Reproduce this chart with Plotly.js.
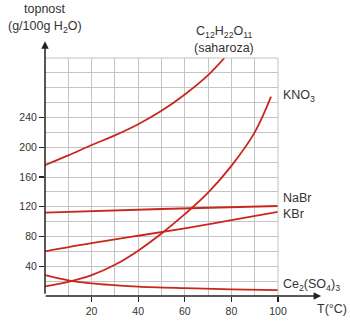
<!DOCTYPE html>
<html>
<head>
<meta charset="utf-8">
<script src="https://cdn.plot.ly/plotly-3.0.1.min.js"></script>
<style>html,body{margin:0;padding:0;background:#fff;}#chart{width:350px;height:321px;}</style>
</head>
<body>
<div id="chart"></div>
<script>
// Solubility data (g / 100 g H2O)
var sucroseT = [0, 10, 20, 30, 40, 50, 60, 70, 77];
var sucroseS = [176, 189, 203, 216, 231, 249, 271, 297, 320];

var kno3T = [0, 10, 20, 30, 40, 50, 60, 70, 80, 90, 97];
var kno3S = [13, 19, 28, 42, 61, 84, 110, 139, 175, 220, 268];

var nabrT = [0, 50, 100];
var nabrS = [112, 117, 121];

var kbrT = [0, 20, 40, 60, 80, 100];
var kbrS = [60, 71, 81, 91, 102, 113];

var ceT = [0, 10, 20, 30, 40, 60, 80, 100];
var ceS = [28, 21, 17, 14.5, 12.5, 10.5, 9, 8];

var xTickVals = [20, 40, 60, 80, 100];
var xTickText = ['20', '40', '60', '80', '100'];
var yTickVals = [40, 80, 120, 160, 200, 240];
var yTickText = ['40', '80', '120', '160', '200', '240'];

var red = '#c9261c';
function series(x, y) {
  return {x: x, y: y, mode: 'lines', type: 'scatter', line: {color: red, width: 1.8, shape: 'spline', smoothing: 1}, hoverinfo: 'skip', showlegend: false};
}
var data = [series(sucroseT, sucroseS), series(kno3T, kno3S), series(nabrT, nabrS), series(kbrT, kbrS), series(ceT, ceS)];

var txt = '#333';
var font = {family: 'Liberation Sans, Arial, sans-serif', size: 12.5, color: txt};
var tickFont = {family: 'Liberation Sans, Arial, sans-serif', size: 10.5, color: txt};

var layout = {
  width: 350, height: 321,
  margin: {l: 45, r: 72, t: 58, b: 25, pad: 0},
  paper_bgcolor: '#fff', plot_bgcolor: '#fff',
  font: font,
  showlegend: false,
  xaxis: {
    range: [0, 100], tickvals: xTickVals, ticktext: xTickText,
    ticks: 'outside', ticklen: 5, tickcolor: '#222', tickwidth: 1.2,
    showgrid: true, gridcolor: '#c4c4c4', gridwidth: 1,
    minor: {dtick: 10, tick0: 0, showgrid: true, gridcolor: '#c4c4c4', gridwidth: 1, ticks: ''},
    zeroline: false, showline: false, tickfont: tickFont, fixedrange: true
  },
  yaxis: {
    range: [0, 320], tickvals: yTickVals, ticktext: yTickText,
    ticks: 'outside', ticklen: 5, tickcolor: '#222', tickwidth: 1.2,
    showgrid: true, gridcolor: '#c4c4c4', gridwidth: 1,
    minor: {dtick: 20, tick0: 0, showgrid: true, gridcolor: '#c4c4c4', gridwidth: 1, ticks: ''},
    zeroline: false, showline: false, tickfont: tickFont, fixedrange: true
  },
  shapes: [
    {type: 'line', xref: 'paper', yref: 'paper', x0: 1, x1: 1, y0: 0, y1: 1, line: {color: '#c4c4c4', width: 1}},
    {type: 'line', xref: 'paper', yref: 'paper', x0: 0, x1: 1, y0: 1, y1: 1, line: {color: '#c4c4c4', width: 1}}
  ],
  annotations: [
    // axes with arrows
    {xref: 'paper', yref: 'paper', x: 1.185, y: 0, axref: 'pixel', ayref: 'pixel', ax: -277, ay: 0,
     showarrow: true, arrowhead: 2, arrowsize: 1, arrowwidth: 1.5, arrowcolor: '#222', text: ''},
    {xref: 'paper', yref: 'paper', x: 0, y: 1.07, axref: 'pixel', ayref: 'pixel', ax: 0, ay: 254,
     showarrow: true, arrowhead: 2, arrowsize: 1, arrowwidth: 1.5, arrowcolor: '#222', text: ''},
    // axis titles
    {xref: 'paper', yref: 'paper', x: 0, y: 1.205, xanchor: 'center', yanchor: 'middle', showarrow: false,
     text: 'topnost', font: font},
    {xref: 'paper', yref: 'paper', x: 0, y: 1.13, xanchor: 'center', yanchor: 'middle', showarrow: false,
     text: '(g/100g H<sub>2</sub>O)', font: font},
    {xref: 'paper', yref: 'paper', x: 1.23, y: -0.055, xanchor: 'center', yanchor: 'middle', showarrow: false,
     text: 'T(°C)', font: font},
    // series labels
    {xref: 'paper', yref: 'paper', x: 0.77, y: 1.11, xanchor: 'center', yanchor: 'middle', showarrow: false,
     text: 'C<sub>12</sub>H<sub>22</sub>O<sub>11</sub>', font: font},
    {xref: 'paper', yref: 'paper', x: 0.77, y: 1.04, xanchor: 'center', yanchor: 'middle', showarrow: false,
     text: '(saharoza)', font: font},
    {xref: 'paper', yref: 'paper', x: 1.015, y: 0.84, xanchor: 'left', yanchor: 'middle', showarrow: false,
     text: 'KNO<sub>3</sub>', font: font},
    {xref: 'paper', yref: 'paper', x: 1.015, y: 0.41, xanchor: 'left', yanchor: 'middle', showarrow: false,
     text: 'NaBr', font: font},
    {xref: 'paper', yref: 'paper', x: 1.015, y: 0.345, xanchor: 'left', yanchor: 'middle', showarrow: false,
     text: 'KBr', font: font},
    {xref: 'paper', yref: 'paper', x: 1.015, y: 0.045, xanchor: 'left', yanchor: 'middle', showarrow: false,
     text: 'Ce<sub>2</sub>(SO<sub>4</sub>)<sub>3</sub>', font: font}
  ]
};

Plotly.newPlot('chart', data, layout, {staticPlot: true, displayModeBar: false});
</script>
</body>
</html>
